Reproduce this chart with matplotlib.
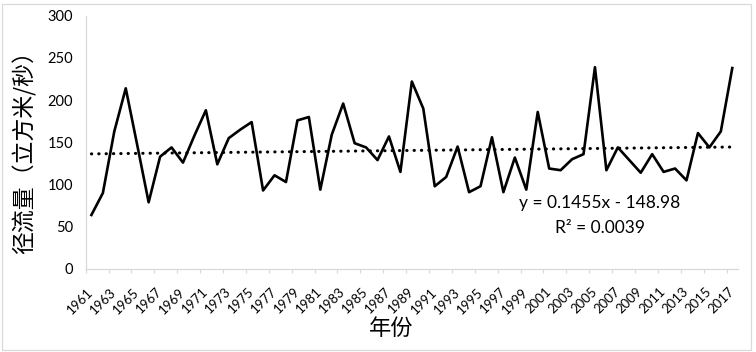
import numpy as np
import matplotlib
matplotlib.use('Agg')
import matplotlib.pyplot as plt
from matplotlib.patches import Rectangle

# DATA
# ----
years = list(range(1961, 2018))
runoff = [64, 90, 163, 214, 147, 79, 133, 144, 126, 158,
          188, 124, 155, 165, 174, 93, 111, 103, 176, 180,
          94, 159, 196, 149, 144, 129, 157, 115, 222, 190,
          98, 109, 145, 91, 98, 156, 91, 132, 94, 186,
          119, 117, 130, 136, 239, 117, 144, 129, 114, 136,
          115, 119, 105, 161, 144, 163, 238]
# linear trend shown on the chart (x = year)
trend_slope = 0.1455
trend_intercept = -148.98
trend_r2 = 0.0039
y_ticks = [0, 50, 100, 150, 200, 250, 300]
x_label_years = years[::2]

# FIGURE
# ------
W, H = 756, 352
fig = plt.figure(figsize=(W / 100, H / 100), dpi=100)
ax = fig.add_axes([85.7 / W, 1 - 269 / H, (738 - 85.7) / W, (269 - 15.7) / H])

num_font = 'Lato'
cjk_font = ['Noto Sans CJK SC', 'DejaVu Sans']

# runoff series
ax.plot(years, runoff, color='black', lw=1.9, solid_joinstyle='round', zorder=3)

# trend line
yr = np.array(years, dtype=float)
ax.plot(yr, trend_slope * yr + trend_intercept, color='black', lw=2.2,
        linestyle=(0, (0.1, 2.3)), dash_capstyle='round', zorder=2)

ax.set_xlim(years[0] - 0.5, years[-1] + 0.5)
ax.set_ylim(y_ticks[0], y_ticks[-1])
ax.set_yticks(y_ticks)
ax.set_yticklabels([str(v) for v in y_ticks], fontsize=10.5, family=num_font)

ax.set_xticks(x_label_years)
ax.set_xticklabels([str(v) for v in x_label_years], rotation=45, ha='right',
                   va='center', rotation_mode='anchor', fontsize=9.5, family=num_font)
ax.set_xticks(np.arange(years[0] - 0.5, years[-1], 2), minor=True)
ax.tick_params(axis='x', which='major', length=0, pad=15)
ax.tick_params(axis='x', which='minor', length=3, color='#d9d9d9', width=0.9)
ax.tick_params(axis='y', length=0, pad=9)

for s in ['top', 'right']:
    ax.spines[s].set_visible(False)
for s in ['left', 'bottom']:
    ax.spines[s].set_color('#d9d9d9')
    ax.spines[s].set_linewidth(0.9)

# trend equation
fig.text(600 / W, 1 - 203 / H, 'y = {0}x - {1}'.format(trend_slope, abs(trend_intercept)),
         ha='center', va='center', fontsize=12.5, family=num_font)
fig.text(600 / W, 1 - 228 / H, 'R² = {0}'.format(trend_r2),
         ha='center', va='center', fontsize=12.5, family=num_font)

# axis titles
fig.text(25 / W, 1 - 147 / H, '径流量（立方米/秒）', rotation=90, ha='center',
         va='center', fontsize=16.5, family=cjk_font)
fig.text(391 / W, 1 - 328 / H, '年份', ha='center', va='center', fontsize=16,
         family=cjk_font)

# chart border
fig.patches.append(Rectangle((2 / W, 2 / H), 749 / W, 346 / H, transform=fig.transFigure,
                             fill=False, edgecolor='#d9d9d9', lw=0.9))

fig.savefig('out.png', dpi=100)
